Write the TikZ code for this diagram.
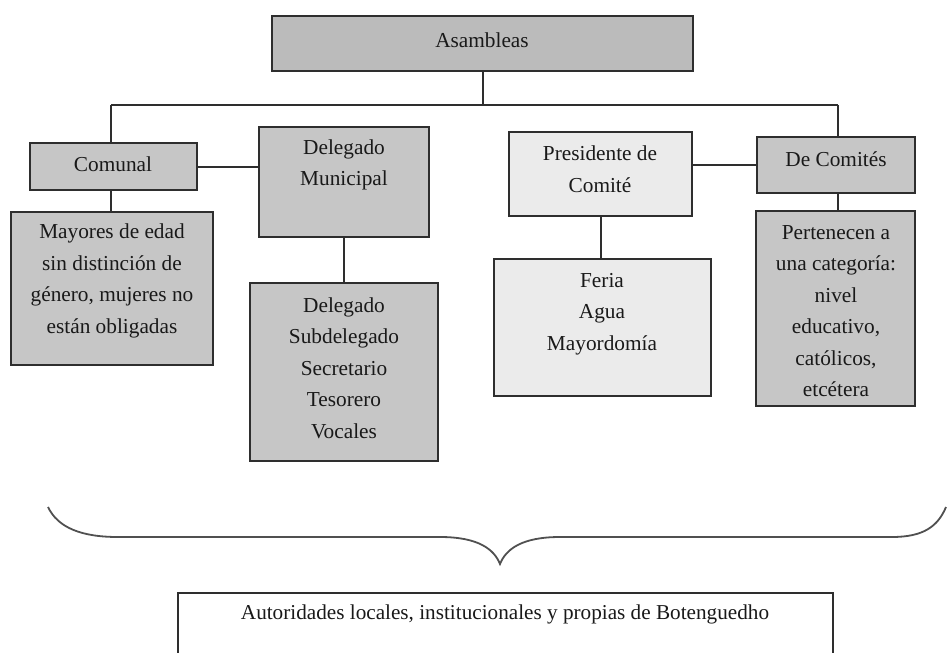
\documentclass[tikz,border=0pt]{standalone}
\usepackage{fontspec}
\setmainfont{Liberation Serif}
\definecolor{boxgray}{HTML}{C6C6C6}
\definecolor{topgray}{HTML}{BBBBBB}
\definecolor{lightgray}{HTML}{EBEBEB}
\definecolor{edge}{HTML}{2E2E2E}
\definecolor{bracegray}{HTML}{505050}
\begin{document}
\begin{tikzpicture}[x=1pt,y=-1pt,
  box/.style={draw=edge,line width=2pt,rectangle,inner sep=0pt},
  dark/.style={box,fill=boxgray},
  top/.style={box,fill=topgray},
  light/.style={box,fill=lightgray},
  plain/.style={box,fill=white,line width=1.6pt},
  txt/.style={align=center,inner sep=0pt,font=\fontsize{21.3}{31.5}\selectfont,text=black!90},
  link/.style={draw=edge,line width=2pt}]
\useasboundingbox (0,0) rectangle (948,653);
\clip (0,0) rectangle (948,653);
% boxes
\node[top,minimum width=421pt,minimum height=55pt] (asm) at (482.5,43.5) {};
\node[dark,minimum width=167pt,minimum height=47pt] (com) at (113.5,166.5) {};
\node[dark,minimum width=202pt,minimum height=153pt] (may) at (112,288.5) {};
\node[dark,minimum width=170pt,minimum height=110pt] (dm) at (344,182) {};
\node[dark,minimum width=188pt,minimum height=178pt] (dl) at (344,372) {};
\node[light,minimum width=183pt,minimum height=84pt] (pc) at (600.5,174) {};
\node[dark,minimum width=158pt,minimum height=56pt] (dc) at (836,165) {};
\node[dark,minimum width=159pt,minimum height=195pt] (pe) at (835.5,308.5) {};
\node[light,minimum width=217pt,minimum height=137pt] (fe) at (602.5,327.5) {};
\node[plain,minimum width=655pt,minimum height=100pt] (aut) at (505.5,643) {};
% texts
\node[txt] (tasm) at (482,40) {Asambleas};
\node[txt] (tcom) at (113,164) {Comunal};
\node[txt] (tmay) at (112,281) {Mayores de edad\\sin distinción de\\género, mujeres no\\están obligadas};
\node[txt] (tdm) at (344,165) {Delegado\\Municipal};
\node[txt] (tdl) at (344,368) {Delegado\\Subdelegado\\Secretario\\Tesorero\\Vocales};
\node[txt] (tpc) at (600,169) {Presidente de\\Comité};
\node[txt] (tdc) at (836,159) {De Comités};
\node[txt] (tpe) at (836,311) {Pertenecen a\\una categoría:\\nivel\\educativo,\\católicos,\\etcétera};
\node[txt] (tfe) at (602,314) {Feria\\Agua\\Mayordomía};
\node[txt,font=\fontsize{21.2}{26}\selectfont] (taut) at (505,614) {Autoridades locales, institucionales y propias de Botenguedho};
% connectors
\coordinate (busL) at (111,105);
\coordinate (busR) at (838,105);
\coordinate (busM) at (asm.south |- busL);
\draw[link] (asm.south) -- (busM);
\draw[link] (busL) -- (busR);
\draw[link] (busL) -- (busL |- com.north);
\draw[link] (busR) -- (busR |- dc.north);
\draw[link] (busL |- com.south) -- (busL |- may.north);
\draw[link] (com.east) -- (com.east -| dm.west);
\draw[link] (dm.south) -- (dl.north);
\draw[link] (dc.west) -- (dc.west -| pc.east);
\draw[link] (busR |- dc.south) -- (busR |- pe.north);
\draw[link] (pc.south) -- (pc.south |- fe.north);
% brace
\coordinate (brL) at (48,507);
\coordinate (brT) at (500,564);
\coordinate (brR) at (946,507);
\draw[bracegray,line width=1.8pt] (brL) .. controls (58,528) and (82,537) .. (118,537)
  -- (440,537) .. controls (478,537) and (494,549) .. (brT)
  .. controls (506,549) and (522,537) .. (560,537)
  -- (892,537) .. controls (924,537) and (938,526) .. (brR);
\end{tikzpicture}
\end{document}
